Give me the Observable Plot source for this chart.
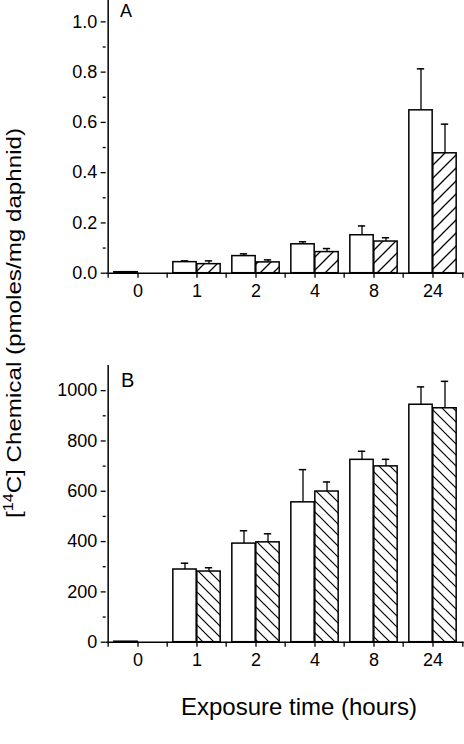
<!DOCTYPE html>
<html>
<head>
<meta charset="utf-8">
<script src="https://cdn.jsdelivr.net/npm/d3@7"></script>
<script src="https://cdn.jsdelivr.net/npm/@observablehq/plot@0.6"></script>
<style>
  html, body { margin: 0; padding: 0; background: #fff; }
  #wrap { position: relative; width: 464px; height: 744px; overflow: hidden; font-family: "Liberation Sans", Arial, sans-serif; }
  #wrap > svg, #wrap > div { position: absolute; left: 0; }
</style>
</head>
<body>
<div id="wrap"></div>
<script>
// ---- data ----
const categories = ["0", "1", "2", "4", "8", "24"];

// Panel A (pmoles/mg daphnid)
const aWhite      = [0.004, 0.044, 0.068, 0.115, 0.151, 0.648];
const aWhiteErr   = [null, 0.005, 0.009, 0.010, 0.037, 0.165];
const aHatched    = [null, 0.036, 0.043, 0.084, 0.126, 0.477];
const aHatchedErr = [null, 0.013, 0.010, 0.014, 0.015, 0.116];
const aTicks      = [0, 0.2, 0.4, 0.6, 0.8, 1.0];
const aMinorTicks = [0.1, 0.3, 0.5, 0.7, 0.9];

// Panel B
const bWhite      = [2, 289, 392, 556, 725, 944];
const bWhiteErr   = [null, 25, 51, 130, 34, 71];
const bHatched    = [null, 281, 397, 599, 699, 930];
const bHatchedErr = [null, 15, 34, 38, 28, 107];
const bTicks      = [0, 200, 400, 600, 800, 1000];
const bMinorTicks = [100, 300, 500, 700, 900];

const panelLabels = ["A", "B"];
const xLabel = "Exposure time (hours)";

// ---- layout ----
const W = 464, ML = 105.7, MR = 0.3;
const bw = (W - ML - MR) / categories.length;
const barW = 24;
const pad = bw / 2 - barW;
const capHalf = 4;

const wrap = document.getElementById("wrap");

// hatch patterns
const defs = document.createElementNS("http://www.w3.org/2000/svg", "svg");
defs.setAttribute("width", 0); defs.setAttribute("height", 0);
defs.style.position = "absolute";
defs.innerHTML = `<defs>
<pattern id="hatchA" patternUnits="userSpaceOnUse" width="13" height="13">
  <rect width="13" height="13" fill="white"/>
  <path d="M-1,1 l2,-2 M0,13 l13,-13 M12,14 l2,-2" stroke="black" stroke-width="1.3"/>
</pattern>
<pattern id="hatchB" patternUnits="userSpaceOnUse" width="11" height="11">
  <rect width="11" height="11" fill="white"/>
  <path d="M-1,10 l2,2 M0,0 l11,11 M10,-1 l2,2" stroke="black" stroke-width="1.2"/>
</pattern></defs>`;
wrap.appendChild(defs);

function rows(white, whiteErr, hatched, hatchedErr) {
  const w = categories.map((c, i) => ({cat: c, v: white[i], e: whiteErr[i]})).filter(d => d.v != null);
  const h = categories.map((c, i) => ({cat: c, v: hatched[i], e: hatchedErr[i]})).filter(d => d.v != null);
  return {w, h};
}

function panel({white, whiteErr, hatched, hatchedErr, domain, ticks, minor, fmt, hatch, height, marginTop, marginBottom}) {
  const {w, h} = rows(white, whiteErr, hatched, hatchedErr);
  const we = w.filter(d => d.e != null), he = h.filter(d => d.e != null);
  return Plot.plot({
    width: W, height, marginLeft: ML, marginRight: MR, marginTop, marginBottom,
    style: {fontFamily: "Liberation Sans, Arial, sans-serif", fontSize: "18px", color: "black", background: "transparent"},
    x: {domain: categories, padding: 0, label: null},
    y: {domain, label: null},
    marks: [
      // error bars (upper only)
      Plot.ruleX(we, {x: "cat", y1: "v", y2: d => d.v + d.e, dx: -barW / 2, stroke: "black", strokeWidth: 1.3}),
      Plot.ruleX(he, {x: "cat", y1: "v", y2: d => d.v + d.e, dx: barW / 2, stroke: "black", strokeWidth: 1.3}),
      Plot.tickY(we, {x: "cat", y: d => d.v + d.e, insetLeft: bw / 2 - barW / 2 - capHalf, insetRight: bw / 2 + barW / 2 - capHalf, stroke: "black", strokeWidth: 1.5}),
      Plot.tickY(he, {x: "cat", y: d => d.v + d.e, insetLeft: bw / 2 + barW / 2 - capHalf, insetRight: bw / 2 - barW / 2 - capHalf, stroke: "black", strokeWidth: 1.5}),
      // bars
      Plot.barY(w, {x: "cat", y: "v", fill: "white", stroke: "black", strokeWidth: 1.5, insetLeft: pad, insetRight: bw / 2}),
      Plot.barY(h, {x: "cat", y: "v", fill: `url(#${hatch})`, stroke: "black", strokeWidth: 1.5, insetLeft: bw / 2, insetRight: pad}),
      // axes
      Plot.ruleY([0], {stroke: "black", strokeWidth: 1.5}),
      Plot.ruleX([categories[0]], {x: d => d, dx: -bw / 2, stroke: "black", strokeWidth: 1.5}),
      Plot.axisY({ticks, tickFormat: fmt, tickSize: 5, tickPadding: 4, label: null, strokeWidth: 1.3}),
      Plot.axisY({ticks: minor, tickFormat: () => "", tickSize: 3, label: null, strokeWidth: 1.3}),
      Plot.axisX({tickSize: 5, tickPadding: 6, label: null, strokeWidth: 1.3}),
      Plot.ruleX(categories, {x: d => d, dx: -bw / 2, y1: 0, y2: 0, insetBottom: -5, stroke: "black", strokeWidth: 1.3}),
      Plot.ruleX([categories[categories.length - 1]], {x: d => d, dx: bw / 2, y1: 0, y2: 0, insetBottom: -5, stroke: "black", strokeWidth: 1.3})
    ]
  });
}

const pa = panel({white: aWhite, whiteErr: aWhiteErr, hatched: aHatched, hatchedErr: aHatchedErr,
  domain: [0, 1.085], ticks: aTicks, minor: aMinorTicks, fmt: d3.format(".1f"), hatch: "hatchA",
  height: 340, marginTop: 0, marginBottom: 67.3});
pa.style.position = "absolute"; pa.style.top = "0px"; pa.style.left = "0px";
wrap.appendChild(pa);

const pb = panel({white: bWhite, whiteErr: bWhiteErr, hatched: bHatched, hatchedErr: bHatchedErr,
  domain: [0, 1100], ticks: bTicks, minor: bMinorTicks, fmt: d3.format("d"), hatch: "hatchB",
  height: 404, marginTop: 25, marginBottom: 102.3});
pb.style.position = "absolute"; pb.style.top = "340px"; pb.style.left = "0px";
wrap.appendChild(pb);

// overlay text: panel letters, axis titles
const ov = d3.select(wrap).append("svg")
  .attr("width", 464).attr("height", 744)
  .style("position", "absolute").style("top", "0px").style("left", "0px")
  .style("pointer-events", "none")
  .style("font-family", "Liberation Sans, Arial, sans-serif");

ov.append("text").attr("x", 120).attr("y", 16.5).attr("font-size", 18).text(panelLabels[0]);
ov.append("text").attr("x", 121).attr("y", 386.7).attr("font-size", 20).text(panelLabels[1]);

ov.append("text").attr("x", 299).attr("y", 715).attr("font-size", 24)
  .attr("text-anchor", "middle").text(xLabel);

const yl = ov.append("text")
  .attr("transform", "translate(20.5,323) rotate(-90)")
  .attr("text-anchor", "middle").attr("font-size", 21)
  .attr("textLength", 390).attr("lengthAdjust", "spacingAndGlyphs");
yl.append("tspan").text("[");
yl.append("tspan").attr("font-size", 14).attr("dy", -8).text("14");
yl.append("tspan").attr("dy", 8).text("C] Chemical (pmoles/mg daphnid)");
</script>
</body>
</html>
